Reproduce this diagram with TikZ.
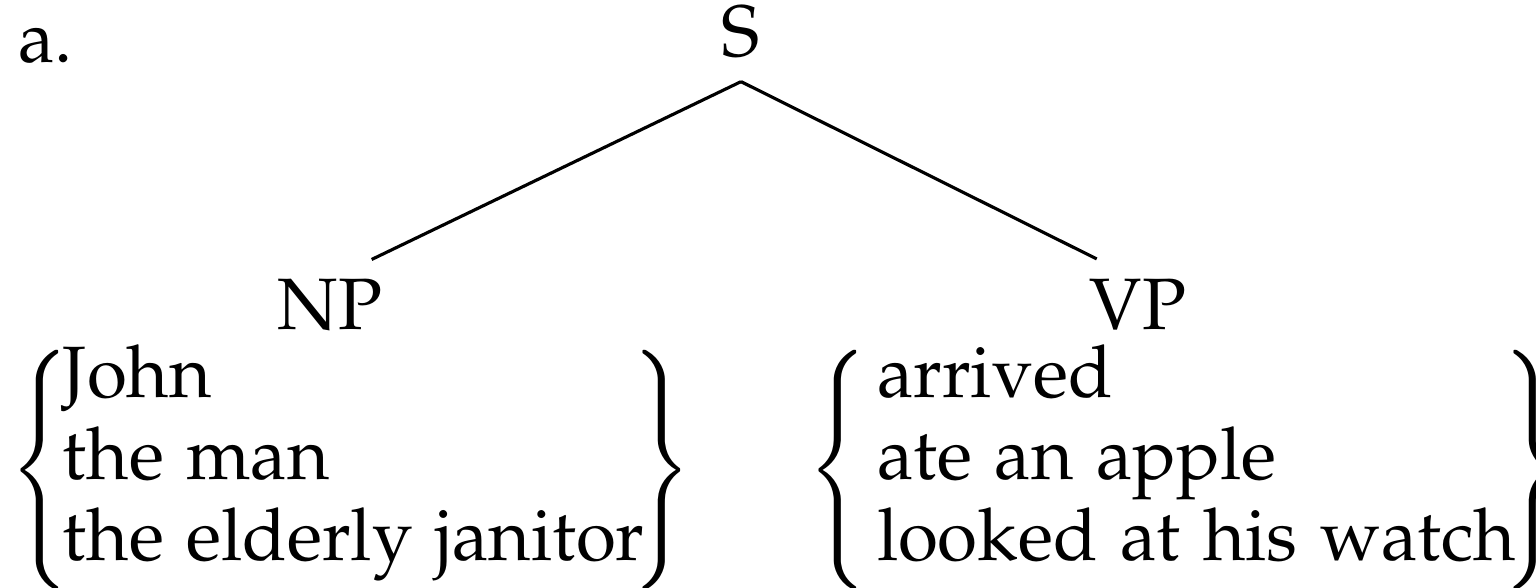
\documentclass[tikz,border=0pt]{standalone}
\usepackage[T1]{fontenc}
\usepackage{mathpazo}
\usepackage{graphicx}
\newcommand{\grpfont}{\fontsize{10.4}{11.6}\selectfont\spaceskip=3.25pt\relax}
\newcommand{\bracestrut}{\vcenter{\hrule height 15pt depth 15pt width 0pt}}
\newcommand{\lbrc}{\resizebox*{\width}{34.3pt}{$\left\{\bracestrut\right.$}}
\newcommand{\rbrc}{\resizebox*{\width}{34.3pt}{$\left.\bracestrut\right\}$}}
\tikzset{
  cat/.style={inner sep=0pt, outer sep=0pt, anchor=base, font=\fontsize{10.4}{11.6}\selectfont},
  words/.style={inner sep=0pt, outer sep=0pt, anchor=base west, font=\grpfont},
  brc/.style={inner sep=0pt, outer sep=0pt, font=\fontsize{10.4}{11.6}\selectfont},
  branch/.style={line width=0.45pt, shorten >=6.6pt},
}
\begin{document}
\begin{tikzpicture}[x=0.142857pt, y=-0.142857pt]
\delimiterfactor=1000 \delimitershortfall=0pt
\useasboundingbox (0,0) rectangle (1536,588);
\node[cat, anchor=base west] (ex) at (18,63) {a.};
\node[cat, inner ysep=3.3pt] (S) at (741,57) {S};
\node[cat] (NP) at (330,330) {NP};
\node[cat] (VP) at (1138,330) {VP};
\node[words] (T1) at (63,398) {\begin{tabular}[t]{@{}l@{}}John\\the man\\the elderly janitor\end{tabular}};
\node[words] (T2) at (877,398) {\begin{tabular}[t]{@{}l@{}}arrived\\ate an apple\\looked at his watch\end{tabular}};
\node[brc, anchor=west] (L1) at (10,470) {\lbrc};
\node[brc, anchor=east] (R1) at (692,470) {\rbrc};
\node[brc, anchor=west] (L2) at (808,470) {\lbrc};
\node[brc, anchor=east] (R2) at (1563,470) {\rbrc};
\draw[branch] (S.south) -- (NP.north);
\draw[branch] (S.south) -- (VP.north);
\end{tikzpicture}
\end{document}
